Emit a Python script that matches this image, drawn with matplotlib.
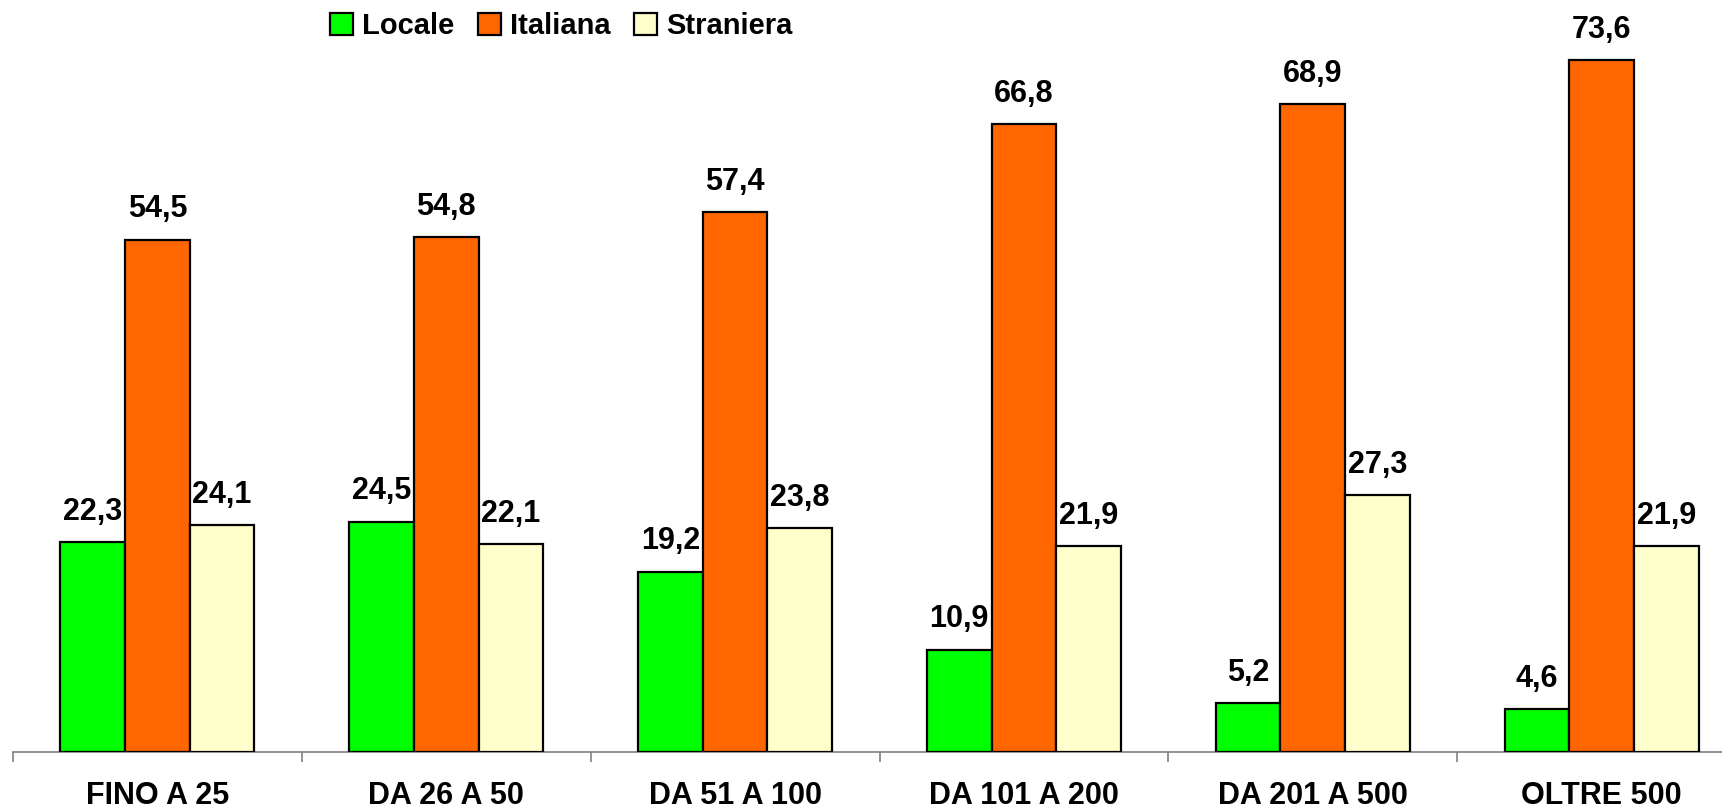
import numpy as np
import matplotlib.pyplot as plt

# dati
categorie = ['FINO A 25', 'DA 26 A 50', 'DA 51 A 100', 'DA 101 A 200', 'DA 201 A 500', 'OLTRE 500']
locale = [22.3, 24.5, 19.2, 10.9, 5.2, 4.6]
italiana = [54.5, 54.8, 57.4, 66.8, 68.9, 73.6]
straniera = [24.1, 22.1, 23.8, 21.9, 27.3, 21.9]

serie = ['Locale', 'Italiana', 'Straniera']
colori = ['#00FF00', '#FF6600', '#FFFFCC']

plt.rcParams['font.family'] = ['Liberation Sans', 'DejaVu Sans']
plt.rcParams['font.weight'] = 'bold'

W, H = 1722, 811
fig = plt.figure(figsize=(W / 100, H / 100), dpi=100)
# l'asse continua oltre il bordo destro, come nell'originale
ax = fig.add_axes([13 / W, 59 / H, 1733 / W, 752 / H])

x = np.arange(len(categorie))
bw = 0.224
for k, (nome, valori, col) in enumerate(zip(serie, [locale, italiana, straniera], colori)):
    pos = x + (k - 1) * bw
    ax.bar(pos, valori, width=bw, color=col, edgecolor='black', linewidth=1.6,
           label=nome, zorder=3)
    for xi, v in zip(pos, valori):
        ax.annotate(f"{v:.1f}".replace('.', ','), (xi, v), xytext=(0, 16),
                    textcoords='offset points', ha='center', va='baseline',
                    fontsize=22, fontweight='bold')

ax.set_xlim(-0.5, len(categorie) - 0.5)
ax.set_ylim(0, 80)
ax.set_xticks(x)
ax.set_xticklabels(categorie, fontsize=22, fontweight='bold')
ax.set_xticks(np.arange(len(categorie)) - 0.5, minor=True)
ax.tick_params(axis='x', which='major', length=0, pad=21)
ax.tick_params(axis='x', which='minor', length=7, width=1.2, color='#808080', direction='out')
ax.set_yticks([])
for s in ['top', 'right', 'left']:
    ax.spines[s].set_visible(False)
ax.spines['bottom'].set_color('#808080')
ax.spines['bottom'].set_linewidth(1.2)

fig.legend(loc='center', bbox_to_anchor=(561 / W, 1 - 26 / H), ncol=3, frameon=False,
           fontsize=21, handlelength=0.8, handleheight=0.8, handletextpad=0.3,
           columnspacing=0.8, borderaxespad=0)

fig.savefig('out.png', dpi=100)
